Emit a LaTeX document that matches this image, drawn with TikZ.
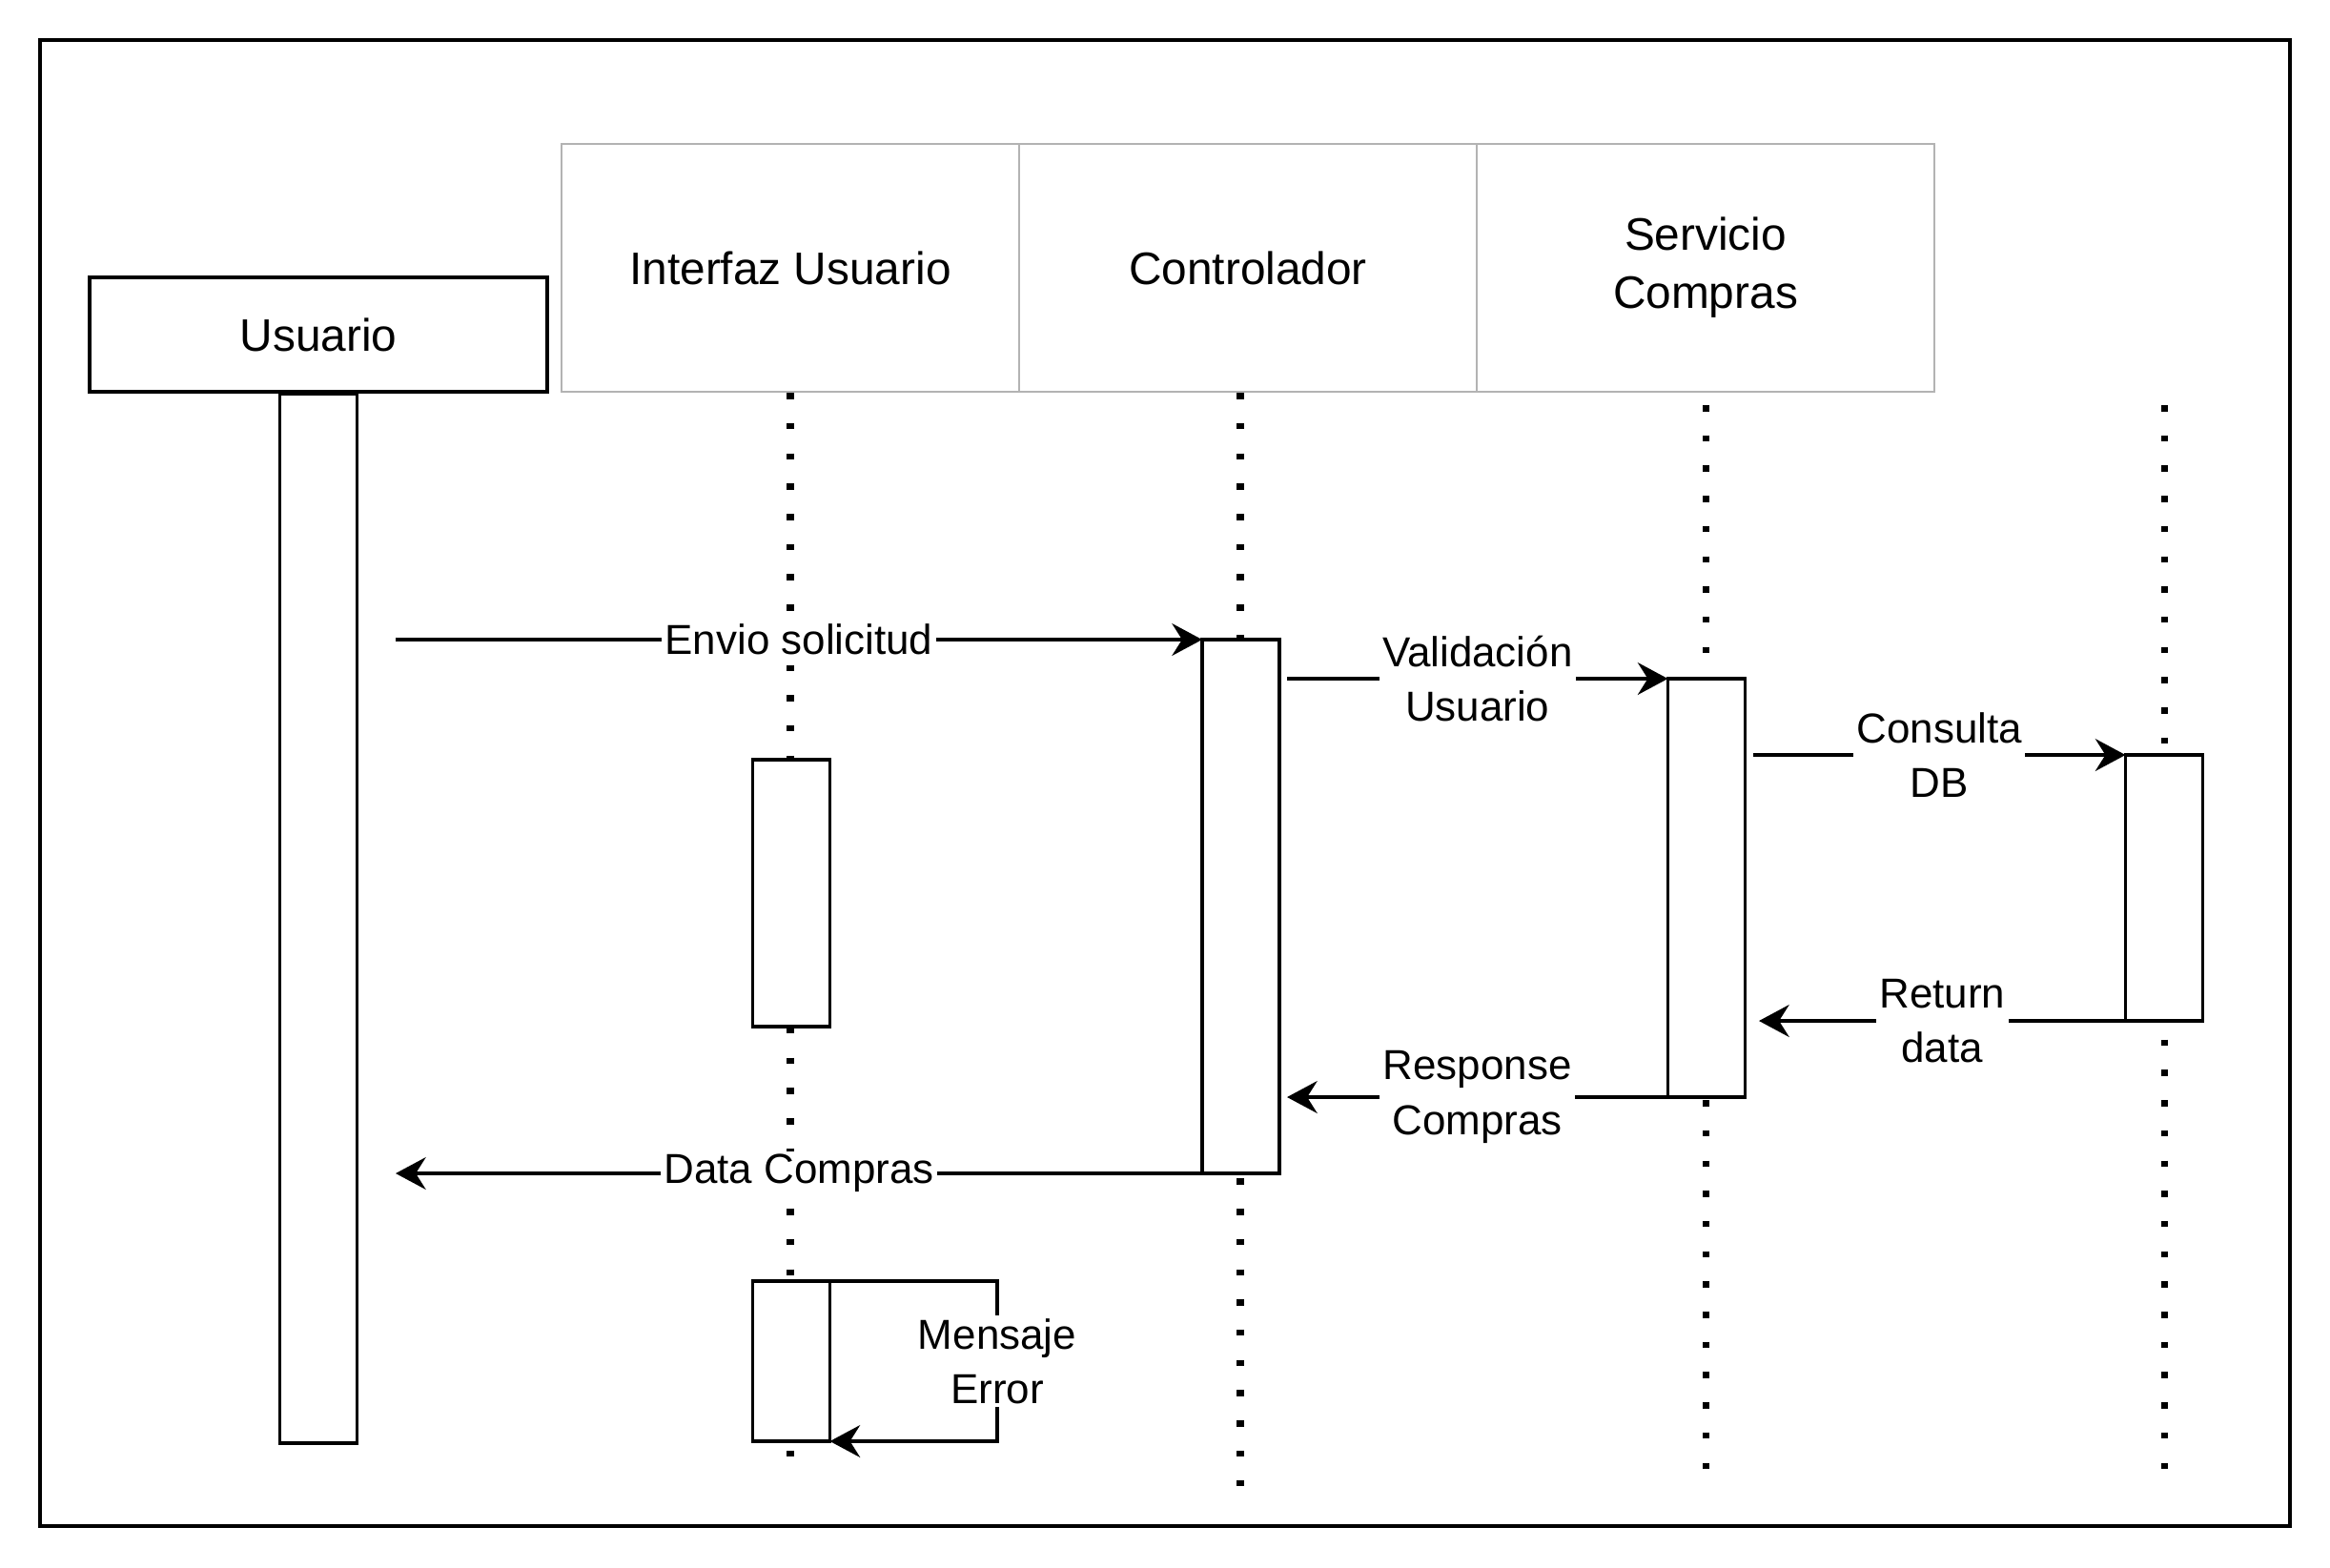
\documentclass[tikz,border=0pt]{standalone}
\usepackage{fontspec}
\setmainfont{Liberation Sans}
\usetikzlibrary{arrows.meta}
\definecolor{headgray}{RGB}{179,179,179}

\begin{document}
\begin{tikzpicture}[
    actor/.style={draw, line width=1.1pt, minimum width=4.8cm, minimum height=1.2cm, font=\fontsize{13.6}{17.3}\selectfont},
    header/.style={draw=headgray, line width=0.7pt, minimum width=4.8cm, minimum height=2.6cm, align=center, font=\fontsize{13.6}{17.3}\selectfont},
    bar/.style={draw, fill=white, line width=1.1pt, minimum width=0.81cm, anchor=north, inner sep=0pt, outer sep=0pt},
    life/.style={line width=2pt, dash pattern=on 0.065cm off 0.252cm},
    msg/.style={line width=1.1pt, -{Stealth[length=9pt, width=9.6pt, inset=3pt]}},
    lbl/.style={fill=white, inner sep=1pt, align=center, font=\fontsize{12.5}{16.3}\selectfont}
]
\useasboundingbox (0,0) rectangle (24.44,-16.44);
\draw[line width=1.4pt] (0.42,-0.42) rectangle (24.02,-16.01);

% participantes
\node[actor] (usr) at (3.34,-3.51) {Usuario};
\node[header] (hint) at (8.29,-2.81) {Interfaz Usuario};
\node[header] (hctl) at (13.09,-2.81) {Controlador};
\node[header] (hsrv) at (17.89,-2.81) {Servicio\\Compras};

% lineas de vida
\coordinate (endI) at (8.29,-15.51);
\coordinate (endC) at (13.01,-15.59);
\coordinate (topS) at (17.89,-4.25);
\coordinate (endS) at (17.89,-15.51);
\coordinate (topD) at (22.70,-4.25);
\coordinate (endD) at (22.70,-15.51);
\draw[life] (hint.south) -- (endI);
\draw[life] (hctl.south -| endC) -- (endC);
\draw[life] (topS) -- (endS);
\draw[life] (topD) -- (endD);

% activaciones
\node[bar, minimum height=11.01cm] (ubar) at (usr.south) {};
\node[bar, minimum height=2.80cm] (ibar) at (8.30,-7.97) {};
\node[bar, minimum height=5.60cm] (cbar) at (13.015,-6.71) {};
\node[bar, minimum height=4.39cm] (sbar) at (17.90,-7.12) {};
\node[bar, minimum height=2.79cm] (dbar) at (22.70,-7.92) {};
\node[bar, minimum height=1.68cm] (ebar) at (8.30,-13.44) {};

% mensajes
\coordinate (m1) at (4.15,-6.71);
\draw[msg] (m1) -- node[lbl]{Envio solicitud} (cbar.north west);
\coordinate (m2) at (13.50,-7.12);
\draw[msg] (m2) -- node[lbl]{Validación\\Usuario} (sbar.north west);
\coordinate (m3) at (18.39,-7.92);
\draw[msg] (m3) -- node[lbl]{Consulta\\DB} (dbar.north west);
\coordinate (m4) at (18.45,-10.71);
\draw[msg] (dbar.south west) -- node[lbl]{Return\\data} (m4);
\coordinate (m5) at (13.50,-11.51);
\draw[msg] (sbar.south west) -- node[lbl]{Response\\Compras} (m5);
\coordinate (m6) at (4.15,-12.31);
\draw[msg] (cbar.south west) -- node[lbl]{Data Compras} (m6);
\coordinate (m7) at (10.46,-13.44);
\draw[msg] (ebar.north east) -- (m7) -- node[lbl]{Mensaje\\Error} (m7 |- ebar.south east) -- (ebar.south east);
\end{tikzpicture}
\end{document}
